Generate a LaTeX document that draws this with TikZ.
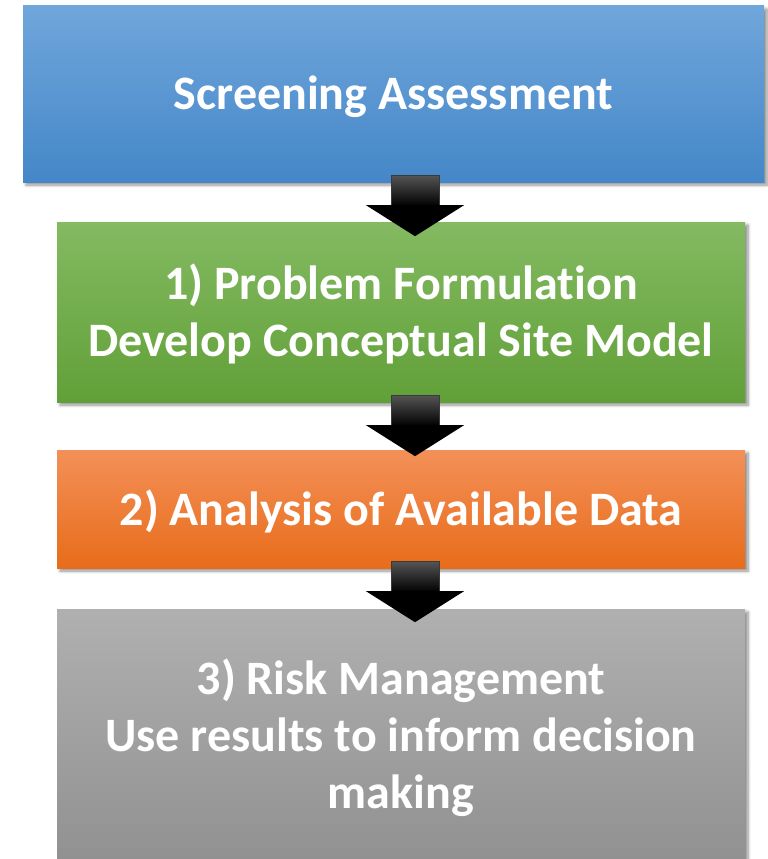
\documentclass[tikz,border=0pt]{standalone}
\usepackage{fontspec}
\setmainfont[Ligatures=NoCommon, Contextuals=NoAlternate]{Carlito}
\usetikzlibrary{calc,shadows.blur}

\definecolor{blueT}{HTML}{70A6DB}
\definecolor{blueB}{HTML}{4487C8}
\definecolor{greenT}{HTML}{84BA62}
\definecolor{greenB}{HTML}{61A038}
\definecolor{orangeT}{HTML}{F39058}
\definecolor{orangeB}{HTML}{E86C1A}
\definecolor{grayT}{HTML}{B0B0B0}
\definecolor{grayB}{HTML}{919191}
\definecolor{shaftT}{HTML}{555555}
\definecolor{shaftEdge}{HTML}{3A3A3A}

\tikzset{
  stagebox/.style={rectangle, inner sep=0pt, align=center, text=white,
    font=\fontsize{48}{57}\selectfont\bfseries, text depth=3pt,
    blur shadow={shadow xshift=3pt, shadow yshift=-3pt, shadow blur steps=6,
      shadow opacity=45, shadow blur radius=3pt}},
}

% block arrow from the bottom of one stage to the top of the next
\newcommand\flowarrow[2]{%
  \coordinate (#1-#2) at ($(#1.south -| #2.north)+(14,-7)$);
  \shade[top color=shaftT, bottom color=black, draw=shaftEdge, line width=0.8pt]
    ($(#1-#2)+(-24,0)$) rectangle ($(#1-#2)+(24,31)$);
  \fill[black] ($(#1-#2)+(-49,30)$) -- ($(#1-#2)+(49,30)$) -- ($(#1-#2)+(0,61)$) -- cycle;
}

\begin{document}
\begin{tikzpicture}[x=1pt, y=-1pt]
  \useasboundingbox (0,0) rectangle (768,859);
  \begin{scope}
    \clip (0,0) rectangle (768,859);

    \node[stagebox, top color=blueT, bottom color=blueB,
      minimum width=741pt, minimum height=176pt] (screen) at (393.5,94)
      {Screening Assessment};

    \node[stagebox, top color=greenT, bottom color=greenB,
      minimum width=688pt, minimum height=180pt] (problem) at (401,312)
      {1) Problem Formulation\\Develop Conceptual Site Model};

    \node[stagebox, top color=orangeT, bottom color=orangeB,
      minimum width=688pt, minimum height=118pt] (analysis) at (401,509)
      {2) Analysis of Available Data};

    \node[stagebox, top color=grayT, bottom color=grayB,
      minimum width=688pt, minimum height=252pt] (risk) at (401,735)
      {3) Risk Management\\Use results to inform decision\\making};

    \flowarrow{screen}{problem}
    \flowarrow{problem}{analysis}
    \flowarrow{analysis}{risk}
  \end{scope}
\end{tikzpicture}
\end{document}
